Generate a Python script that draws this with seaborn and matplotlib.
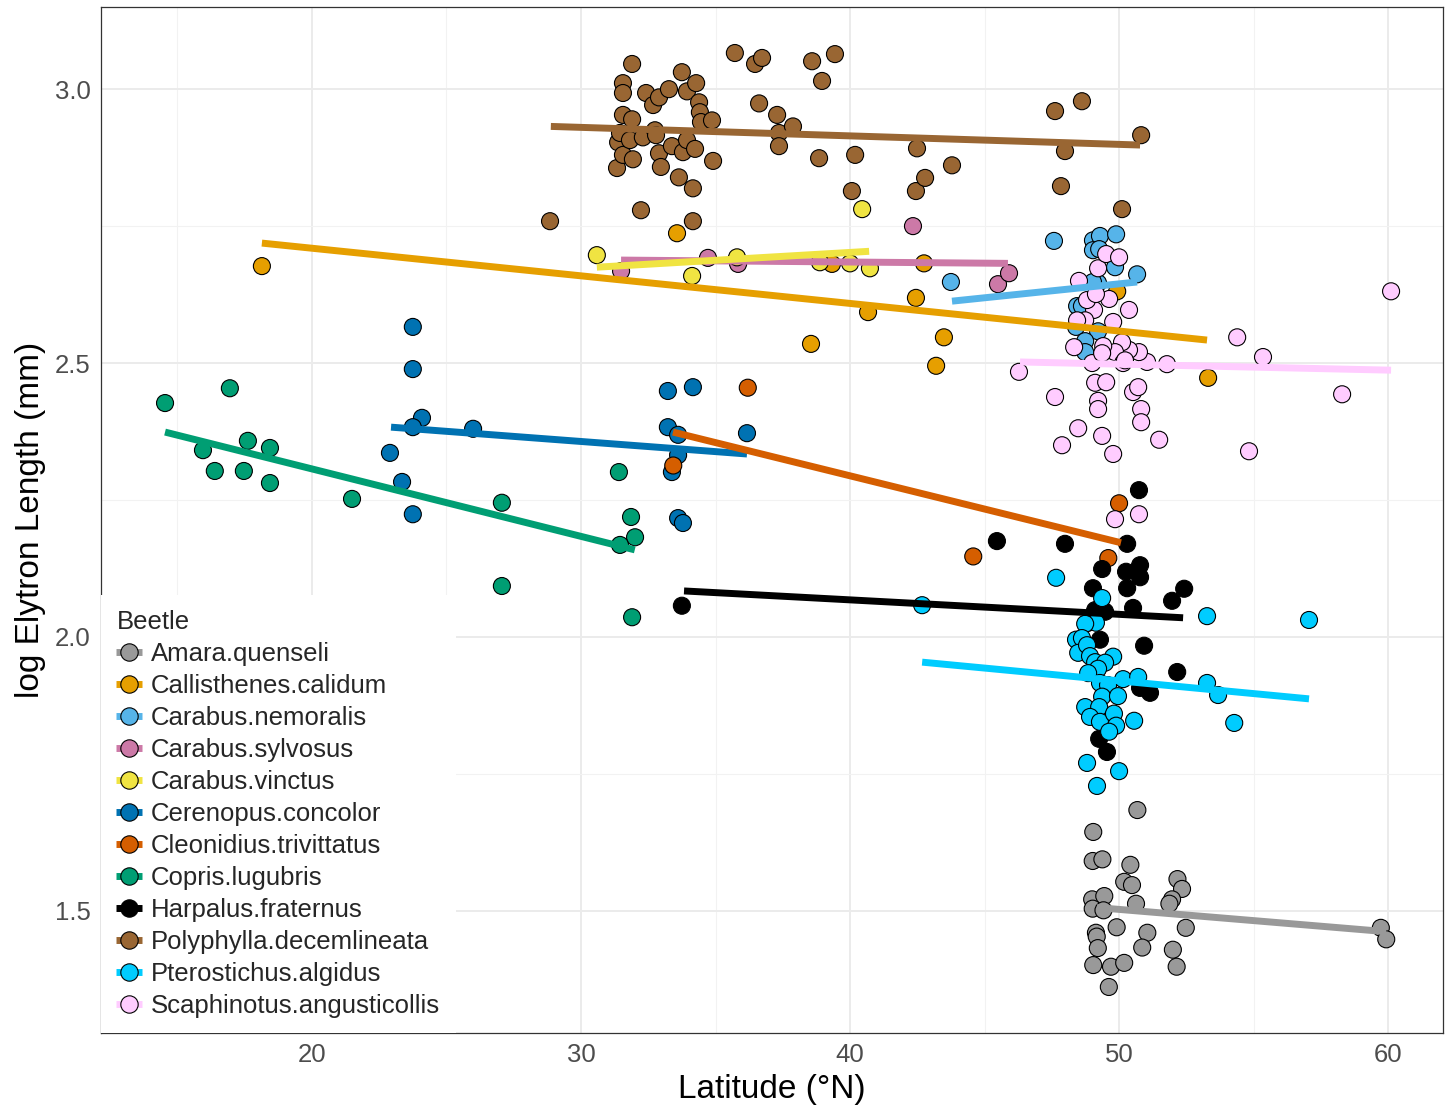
import numpy as np
import pandas as pd
import matplotlib
matplotlib.use("Agg")
import matplotlib.pyplot as plt
import seaborn as sns
from matplotlib.lines import Line2D

# ---- beetle measurements: latitude (°N) and log elytron length (mm) ----
species = ["Amara.quenseli", "Callisthenes.calidum", "Carabus.nemoralis",
           "Carabus.sylvosus", "Carabus.vinctus", "Cerenopus.concolor",
           "Cleonidius.trivittatus", "Copris.lugubris", "Harpalus.fraternus",
           "Polyphylla.decemlineata", "Pterostichus.algidus",
           "Scaphinotus.angusticollis"]

colors = ["#999999", "#E69F00", "#56B4E9", "#CC79A7", "#F0E442", "#0072B2",
          "#D55E00", "#009E73", "#000000", "#996633", "#00CCFF", "#FFCCFF"]

lat_amara = [50.68, 49.04, 49.02, 49.38, 50.42, 50.19, 50.48, 52.17, 52.34, 51.97,
             51.87, 49.00, 49.45, 50.63, 49.02, 49.42, 49.91, 51.05, 52.48, 49.14,
             49.17, 49.21, 50.86, 52.00, 49.04, 49.70, 50.19, 52.14, 49.62, 59.73, 59.93]
len_amara = [1.684, 1.644, 1.591, 1.594, 1.584, 1.553, 1.547, 1.558, 1.540, 1.521,
             1.513, 1.521, 1.527, 1.513, 1.504, 1.501, 1.470, 1.460, 1.469, 1.460,
             1.453, 1.432, 1.433, 1.429, 1.401, 1.398, 1.405, 1.398, 1.361, 1.469, 1.448]

lat_callisthenes = [18.14, 33.57, 38.55, 39.33, 40.67, 42.45, 42.75, 43.49, 43.20, 49.93, 53.31]
len_callisthenes = [2.677, 2.737, 2.535, 2.681, 2.593, 2.619, 2.682, 2.547, 2.495, 2.631, 2.473]

lat_nemoralis = [43.75, 47.58, 49.03, 49.29, 49.89, 49.03, 49.26, 49.85, 50.67, 49.22,
                 49.03, 48.44, 48.62, 48.40, 49.22, 48.74, 48.74]
len_nemoralis = [2.648, 2.723, 2.724, 2.732, 2.735, 2.706, 2.708, 2.675, 2.662, 2.646,
                 2.648, 2.604, 2.604, 2.566, 2.558, 2.540, 2.520]

lat_sylvosus = [31.49, 34.72, 35.84, 42.34, 45.50, 45.91]
len_sylvosus = [2.668, 2.692, 2.681, 2.750, 2.644, 2.664]

lat_vinctus = [30.59, 34.13, 35.80, 38.88, 40.00, 40.74, 40.45]
len_vinctus = [2.697, 2.659, 2.693, 2.684, 2.682, 2.673, 2.781]

lat_cerenopus = [23.75, 23.75, 24.09, 23.75, 25.99, 22.90, 23.35, 23.75, 33.23, 34.16,
                 33.23, 33.61, 33.61, 33.38, 33.61, 33.79, 36.17]
len_cerenopus = [2.566, 2.489, 2.400, 2.383, 2.380, 2.336, 2.283, 2.224, 2.449, 2.456,
                 2.383, 2.369, 2.332, 2.301, 2.217, 2.208, 2.372]

lat_cleonidius = [36.20, 33.43, 44.58, 50.00, 49.60]
len_cleonidius = [2.455, 2.313, 2.147, 2.244, 2.144]

lat_copris = [14.54, 16.95, 15.95, 17.62, 18.44, 16.39, 17.47, 18.44, 21.49, 27.06,
              27.06, 31.41, 31.86, 32.01, 31.45, 31.90]
len_copris = [2.427, 2.454, 2.341, 2.358, 2.345, 2.303, 2.303, 2.281, 2.252, 2.245,
              2.093, 2.301, 2.219, 2.182, 2.168, 2.036]

lat_harpalus = [33.75, 45.46, 47.99, 50.74, 50.30, 49.37, 50.26, 50.78, 50.78, 49.03,
                50.30, 50.52, 49.11, 49.48, 51.97, 52.42, 49.29, 50.93, 52.16, 50.78,
                51.15, 49.26, 49.55, 48.85]
len_harpalus = [2.057, 2.175, 2.170, 2.268, 2.170, 2.124, 2.119, 2.131, 2.109, 2.089,
                2.089, 2.053, 2.049, 2.046, 2.066, 2.088, 1.995, 1.984, 1.936, 1.907,
                1.898, 1.814, 1.790, 2.026]

lat_polyphylla = [28.85, 31.34, 31.38, 31.45, 31.56, 31.56, 31.56, 31.56, 31.82, 31.90,
                  31.90, 31.93, 32.23, 32.30, 32.42, 32.68, 32.75, 32.79, 32.90, 32.90,
                  32.97, 33.27, 33.38, 33.64, 33.75, 33.79, 33.94, 33.94, 34.16, 34.16,
                  34.24, 34.28, 34.39, 34.42, 34.46, 34.87, 34.91, 35.72, 36.47, 36.73,
                  36.62, 37.29, 37.36, 37.36, 37.88, 38.59, 38.85, 38.96, 39.44, 40.07,
                  40.19, 42.45, 42.49, 42.79, 43.79, 47.62, 47.84, 47.99, 48.62, 50.11, 50.82]
len_polyphylla = [2.759, 2.856, 2.903, 2.920, 3.011, 2.993, 2.953, 2.880, 2.907, 3.046,
                  2.945, 2.872, 2.779, 2.912, 2.993, 2.971, 2.925, 2.916, 2.985, 2.883,
                  2.858, 3.000, 2.896, 2.839, 3.031, 2.885, 2.996, 2.907, 2.819, 2.759,
                  2.891, 3.011, 2.976, 2.958, 2.940, 2.943, 2.869, 3.066, 3.046, 3.057,
                  2.974, 2.953, 2.920, 2.896, 2.932, 3.051, 2.874, 3.015, 3.064, 2.814,
                  2.880, 2.814, 2.892, 2.838, 2.861, 2.960, 2.823, 2.887, 2.978, 2.781, 2.916]

lat_pterostichus = [42.68, 47.66, 49.37, 49.14, 48.74, 48.40, 48.62, 48.48, 48.81, 48.92,
                    49.11, 49.78, 49.48, 49.22, 48.85, 50.15, 50.71, 49.29, 49.59, 49.37,
                    49.96, 48.74, 49.26, 48.92, 49.29, 49.81, 50.56, 49.89, 49.63, 48.81,
                    50.00, 49.18, 53.27, 53.27, 53.68, 54.28, 57.06]
len_pterostichus = [2.058, 2.108, 2.071, 2.026, 2.024, 1.995, 1.998, 1.971, 1.985, 1.965,
                    1.954, 1.964, 1.953, 1.942, 1.934, 1.923, 1.927, 1.916, 1.912, 1.891,
                    1.892, 1.872, 1.872, 1.854, 1.845, 1.860, 1.847, 1.838, 1.827, 1.770,
                    1.755, 1.728, 2.038, 1.916, 1.894, 1.843, 2.031]

lat_scaphinotus = [46.28, 47.62, 48.48, 47.88, 49.37, 49.78, 51.49, 51.78, 51.04, 50.74,
                   50.37, 50.11, 49.85, 50.15, 49.00, 49.11, 49.52, 49.22, 49.22, 50.52,
                   50.71, 50.82, 50.82, 48.33, 49.41, 49.78, 50.37, 49.07, 48.81, 49.63,
                   48.51, 49.22, 49.52, 50.00, 48.74, 48.44, 49.14, 50.22, 49.37, 49.85,
                   50.74, 54.39, 55.35, 58.29, 54.83, 60.11]
len_scaphinotus = [2.484, 2.438, 2.381, 2.350, 2.367, 2.334, 2.360, 2.498, 2.502, 2.520,
                   2.524, 2.538, 2.520, 2.500, 2.500, 2.464, 2.465, 2.431, 2.416, 2.447,
                   2.456, 2.416, 2.392, 2.529, 2.531, 2.575, 2.597, 2.597, 2.615, 2.617,
                   2.650, 2.673, 2.699, 2.693, 2.578, 2.578, 2.626, 2.505, 2.518, 2.215,
                   2.224, 2.547, 2.511, 2.443, 2.339, 2.631]

# Linear-fit values at each species' latitude extremes
fit_lat_lo = [49.18, 18.14, 43.79, 31.49, 30.59, 22.94, 33.42, 14.54, 33.83, 28.88, 42.68, 46.32]
fit_lat_hi = [59.93, 53.27, 50.67, 45.87, 40.71, 36.17, 50.07, 32.00, 52.38, 50.78, 57.06, 60.11]
fit_len_lo = [1.506, 2.719, 2.613, 2.688, 2.675, 2.383, 2.374, 2.374, 2.084, 2.932, 1.954, 2.502]
fit_len_hi = [1.462, 2.542, 2.648, 2.682, 2.704, 2.334, 2.172, 2.159, 2.035, 2.898, 1.887, 2.487]

lat_by_species = [lat_amara, lat_callisthenes, lat_nemoralis, lat_sylvosus, lat_vinctus,
                  lat_cerenopus, lat_cleonidius, lat_copris, lat_harpalus,
                  lat_polyphylla, lat_pterostichus, lat_scaphinotus]
len_by_species = [len_amara, len_callisthenes, len_nemoralis, len_sylvosus, len_vinctus,
                  len_cerenopus, len_cleonidius, len_copris, len_harpalus,
                  len_polyphylla, len_pterostichus, len_scaphinotus]

points = pd.concat(
    [pd.DataFrame({"Beetle": sp, "lat": la, "loglen": ln})
     for sp, la, ln in zip(species, lat_by_species, len_by_species)],
    ignore_index=True)

fits = pd.DataFrame({
    "Beetle": species + species,
    "lat": fit_lat_lo + fit_lat_hi,
    "loglen": fit_len_lo + fit_len_hi,
})

palette = dict(zip(species, colors))

# ---- figure ----
sns.set_style("white")
plt.rcParams["font.family"] = ["Liberation Sans", "DejaVu Sans"]

fig = plt.figure(figsize=(14.45, 11.06), dpi=100)
ax = fig.add_axes([101 / 1445, 1 - 1033 / 1106, 1342 / 1445, 1026 / 1106])

sns.scatterplot(data=points, x="lat", y="loglen", hue="Beetle", hue_order=species,
                palette=palette, s=150, edgecolor="black", linewidth=0.8,
                legend=False, ax=ax, zorder=3)
sns.lineplot(data=fits, x="lat", y="loglen", hue="Beetle", hue_order=species,
             palette=palette, estimator=None, sort=True, linewidth=5,
             legend=False, ax=ax, zorder=4, solid_capstyle="butt")

ax.set_xlim(12.16, 62.04)
ax.set_ylim(1.277, 3.150)
ax.set_xticks([20, 30, 40, 50, 60])
ax.set_yticks([1.5, 2.0, 2.5, 3.0])
ax.set_yticklabels(["1.5", "2.0", "2.5", "3.0"])
ax.set_xticks([15, 25, 35, 45, 55], minor=True)
ax.set_yticks([1.75, 2.25, 2.75], minor=True)

ax.grid(True, which="major", color="#EBEBEB", linewidth=1.4, zorder=0)
ax.grid(True, which="minor", color="#F2F2F2", linewidth=0.8, zorder=0)
ax.set_axisbelow(True)

for sp in ax.spines.values():
    sp.set_color("#333333")
    sp.set_linewidth(0.9)

ax.tick_params(axis="both", which="major", direction="out", length=3.5, width=0.9,
               color="#333333", labelcolor="#4D4D4D", labelsize=18.5, pad=4)
ax.tick_params(axis="both", which="minor", length=0)

ax.set_xlabel("Latitude (°N)", fontsize=24, color="black", labelpad=5)
ax.set_ylabel("log Elytron Length (mm)", fontsize=24, color="black", labelpad=6)

handles = [Line2D([0], [0], color=c, lw=5, solid_capstyle="butt", marker="o",
                  markersize=12.5, markerfacecolor=c, markeredgecolor="black",
                  markeredgewidth=0.8)
           for c in colors]
leg = ax.legend(handles, species, title="Beetle", loc="lower left",
                bbox_to_anchor=(0, 0), borderaxespad=0, frameon=True,
                fontsize=18.5, title_fontsize=18.5, alignment="left",
                handlelength=1.0, handletextpad=0.35, labelspacing=0.31,
                borderpad=0.6, fancybox=False)
leg.get_frame().set_facecolor("white")
leg.get_frame().set_edgecolor("none")
leg.get_frame().set_alpha(1.0)
leg.set_zorder(10)

fig.savefig("out.png", dpi=100)
